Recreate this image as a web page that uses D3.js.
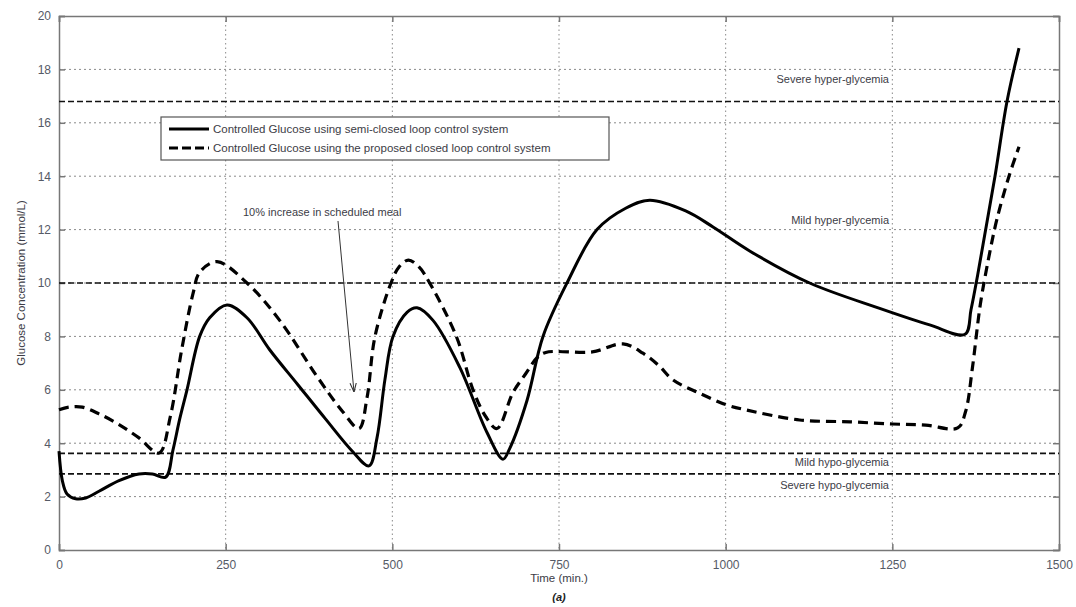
<!DOCTYPE html>
<html><head><meta charset="utf-8">
<script src="https://cdn.jsdelivr.net/npm/d3@7"></script>
<style>body{margin:0;background:#fff}svg{display:block}text{font-family:Arial,"Liberation Sans",sans-serif}</style>
</head><body><svg id="c" width="1076" height="607"></svg>
<script>
const xTicks=[0,250,500,750,1000,1250,1500];
const yTicks=[0,2,4,6,8,10,12,14,16,18,20];
const semiT=[0,5,12,25,40,60,90,120,140,160,171,181,192,211,226,252,282,316,358,400,440,465,477,489,501,522,537,561,601,642,666,676,702,726,762,807,850,886,940,981,1036,1126,1231,1306,1359,1368,1378,1390,1404,1422,1440];
const semiG=[3.7,2.6,2.1,1.92,1.95,2.2,2.6,2.85,2.85,2.73,3.75,4.9,6.0,8.0,8.7,9.18,8.7,7.5,6.2,4.9,3.7,3.15,4.2,6.4,8.0,8.9,9.07,8.6,6.85,4.4,3.4,3.8,5.6,8.0,10,12,12.8,13.1,12.7,12.1,11.2,10.0,9.05,8.43,8.08,9.0,10.3,12,14,16.8,18.8];
const propT=[0,15,35,60,90,120,150,167,184,201,211,237,282,331,387,425,450,462,474,498,510,524,540,556,596,621,640,657,681,700,717,730,800,846,876,900,921,961,1002,1032,1111,1187,1250,1300,1348,1360,1370,1382,1395,1407,1425,1440];
const propG=[5.25,5.35,5.35,5.1,4.7,4.2,3.63,5.0,7.5,9.6,10.4,10.8,10.0,8.6,6.5,5.2,4.55,5.7,8.0,10.0,10.6,10.86,10.6,10.0,8.0,6.0,5.0,4.55,5.9,6.6,7.2,7.4,7.42,7.72,7.37,6.9,6.37,5.87,5.43,5.24,4.87,4.8,4.72,4.68,4.57,5.2,6.8,9.2,11.0,12.4,14.0,15.1];
const thrLevels=[16.8,10,3.62,2.85];
const thrLabels=["Severe hyper-glycemia","Mild hyper-glycemia","Mild hypo-glycemia","Severe hypo-glycemia"];
const thrLabelY=[17.5,12.2,3.15,2.28];
const legendLabels=["Controlled Glucose using semi-closed loop control system","Controlled Glucose using the proposed closed loop control system"];

const svg=d3.select("#c");
const L=59,R=1059,T=16,B=550;
const x=d3.scaleLinear().domain([0,1500]).range([L,R]);
const y=d3.scaleLinear().domain([0,20]).range([B,T]);
const gridC="#8a8a8a", axC="#777", txtC="#555a66";

// grid
svg.append("g").selectAll("line").data(xTicks.slice(1,-1)).join("line")
 .attr("x1",d=>x(d)).attr("x2",d=>x(d)).attr("y1",T).attr("y2",B)
 .attr("stroke",gridC).attr("stroke-width",1).attr("stroke-dasharray","1.5,3");
svg.append("g").selectAll("line").data(yTicks.slice(1,-1)).join("line")
 .attr("y1",d=>y(d)).attr("y2",d=>y(d)).attr("x1",L).attr("x2",R)
 .attr("stroke",gridC).attr("stroke-width",1).attr("stroke-dasharray","2,3");

// axes
const fmt=d3.format("d");
const ax=svg.append("g").attr("transform",`translate(0,${B})`).call(d3.axisBottom(x).tickValues(xTicks).tickFormat(fmt).tickSize(-6).tickPadding(10));
const ay=svg.append("g").attr("transform",`translate(${L},0)`).call(d3.axisLeft(y).tickValues(yTicks).tickFormat(fmt).tickSize(-6).tickPadding(8));
const axT=svg.append("g").attr("transform",`translate(0,${T})`).call(d3.axisTop(x).tickValues(xTicks).tickSize(-6).tickFormat(""));
const ayR=svg.append("g").attr("transform",`translate(${R},0)`).call(d3.axisRight(y).tickValues(yTicks).tickSize(-6).tickFormat(""));
[ax,ay,axT,ayR].forEach(g=>{g.selectAll("path,line").attr("stroke",axC).attr("stroke-width",1.5);g.selectAll("text").attr("fill",txtC).style("font-size","12px").style("font-family","Arial");});

// thresholds
svg.append("g").selectAll("line").data(thrLevels).join("line")
 .attr("x1",L).attr("x2",R).attr("y1",d=>y(d)).attr("y2",d=>y(d))
 .attr("stroke","#111").attr("stroke-width",1.6).attr("stroke-dasharray","6,3");
svg.append("g").selectAll("text").data(thrLabels).join("text")
 .attr("x",x(1245)).attr("y",(d,i)=>y(thrLabelY[i])).attr("text-anchor","end")
 .attr("fill","#3c3c46").style("font-size","11px").text(d=>d);

// curves
const line=d3.line().x(d=>x(d[0])).y(d=>y(d[1])).curve(d3.curveCatmullRom.alpha(0.5));
svg.append("path").datum(semiT.map((t,i)=>[t,semiG[i]])).attr("d",line)
 .attr("fill","none").attr("stroke","#000").attr("stroke-width",3).attr("stroke-linejoin","round");
svg.append("path").datum(propT.map((t,i)=>[t,propG[i]])).attr("d",line)
 .attr("fill","none").attr("stroke","#000").attr("stroke-width",3.2).attr("stroke-dasharray","10,6");

// annotation
svg.append("text").attr("x",243).attr("y",216).attr("fill","#3c3c46").style("font-size","11px").text("10% increase in scheduled meal");
svg.append("defs").append("marker").attr("id","ah").attr("viewBox","0 0 10 10").attr("refX",10).attr("refY",5)
 .attr("markerWidth",9).attr("markerHeight",9).attr("orient","auto").attr("markerUnits","userSpaceOnUse")
 .append("path").attr("d","M0,1.5 L10,5 L0,8.5").attr("fill","none").attr("stroke","#333").attr("stroke-width",1.2);
svg.append("line").attr("x1",338).attr("y1",221).attr("x2",354).attr("y2",392)
 .attr("stroke","#333").attr("stroke-width",1).attr("marker-end","url(#ah)");

// legend
const lg=svg.append("g");
lg.append("rect").attr("x",161).attr("y",117).attr("width",448).attr("height",43).attr("fill","#fff").attr("stroke","#555").attr("stroke-width",1.2);
lg.selectAll("line").data(legendLabels).join("line")
 .attr("x1",169).attr("x2",209).attr("y1",(d,i)=>129+i*19).attr("y2",(d,i)=>129+i*19)
 .attr("stroke","#000").attr("stroke-width",3).attr("stroke-dasharray",(d,i)=>i?"9,4":null);
lg.selectAll("text").data(legendLabels).join("text")
 .attr("x",213).attr("y",(d,i)=>133+i*19).attr("fill","#3c3c46").style("font-size","11.5px").text(d=>d);

// axis titles
svg.append("text").attr("x",559).attr("y",582).attr("text-anchor","middle").attr("fill","#3c3c46").style("font-size","11.5px").text("Time (min.)");
svg.append("text").attr("transform","translate(25,283) rotate(-90)").attr("text-anchor","middle").attr("fill","#3c3c46").style("font-size","11.5px").text("Glucose Concentration (mmol/L)");
svg.append("text").attr("x",559).attr("y",601).attr("text-anchor","middle").attr("fill","#222").style("font-size","11px").style("font-weight","bold").style("font-style","italic").text("(a)");
</script></body></html>
